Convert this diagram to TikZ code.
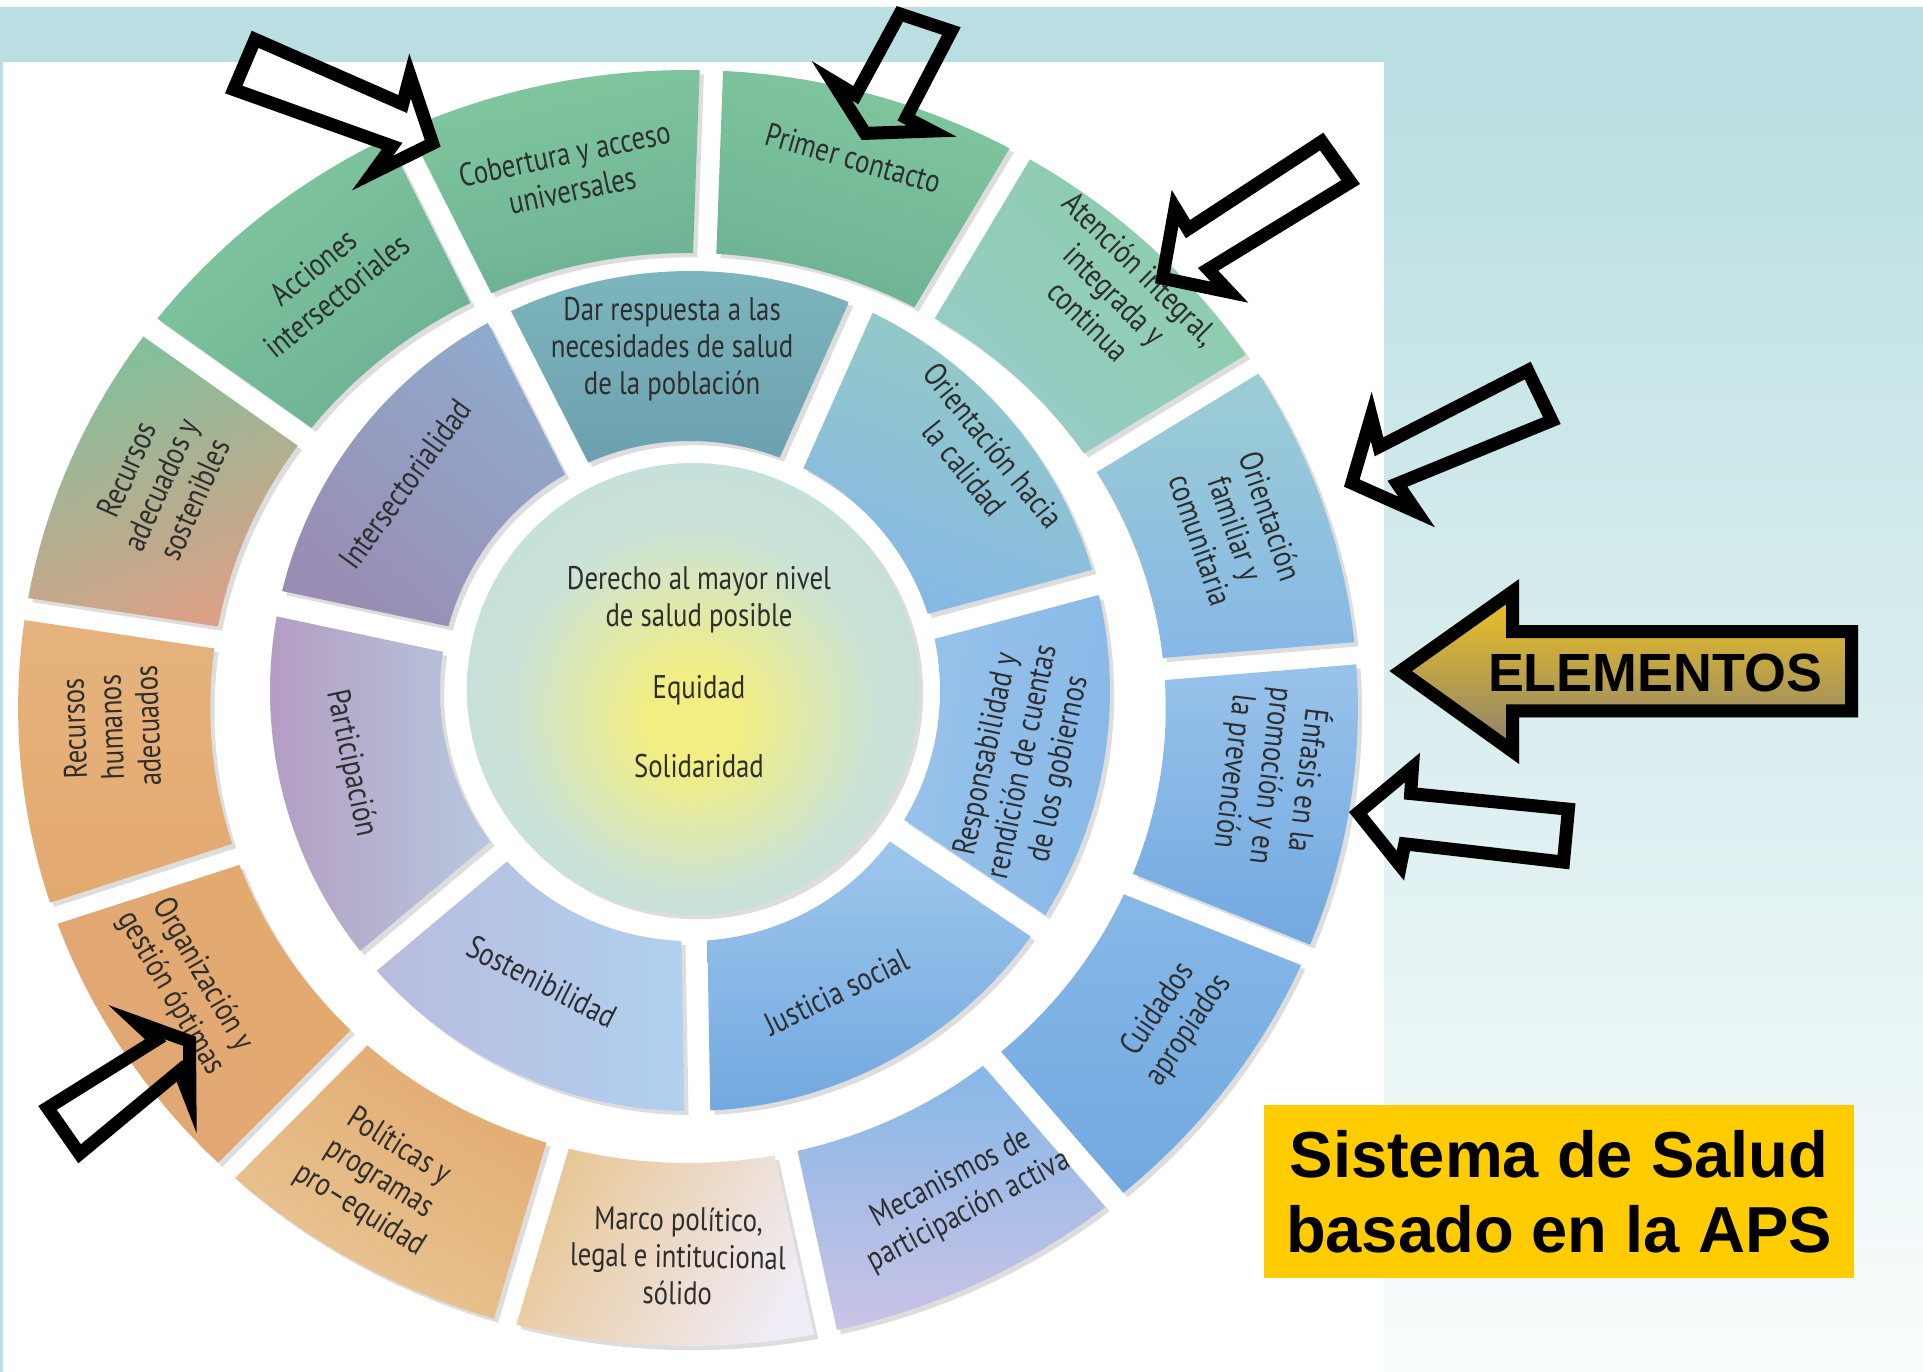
\documentclass[tikz,border=0pt]{standalone}
\usepackage{fontspec}
\usetikzlibrary{shadows}
\newfontfamily\rueda[FakeStretch=0.82]{PT Sans}
\newfontfamily\titulo{Liberation Sans}
\definecolor{banda}{HTML}{BADFE2}
\definecolor{verde}{HTML}{80C89F}
\definecolor{verdeOsc}{HTML}{6DB194}
\definecolor{teal}{HTML}{9CCDD3}
\definecolor{azul}{HTML}{86B8E7}
\definecolor{azulOsc}{HTML}{72A9E0}
\definecolor{lavanda}{HTML}{CBC3E6}
\definecolor{blanco}{HTML}{F0ECF6}
\definecolor{tan}{HTML}{E3AA6F}
\definecolor{tanClaro}{HTML}{E8C796}
\definecolor{rosa}{HTML}{D59A95}
\definecolor{morado}{HTML}{9A8DB3}
\definecolor{violeta}{HTML}{B49BC1}
\definecolor{azulGris}{HTML}{8FAACD}
\definecolor{tealM}{HTML}{7DB7BE}
\definecolor{tealOsc}{HTML}{6CA0AF}
\definecolor{amarilloC}{HTML}{F2EE82}
\definecolor{verdeC}{HTML}{CBE3D6}
\definecolor{celesteC}{HTML}{B5D5EC}
\definecolor{gristexto}{HTML}{2E2E2E}
\definecolor{oro}{HTML}{F7C81A}
\definecolor{grisOro}{HTML}{847C76}
\definecolor{amarilloAPS}{HTML}{FFCC00}
\pgfdeclareradialshading{centro}{\pgfpoint{0bp}{-4bp}}{color(0bp)=(amarilloC); color(5bp)=(amarilloC); color(20bp)=(verdeC); color(50bp)=(celesteC)}
\tikzset{>=stealth}
\tikzset{
  segmento/.style={drop shadow={shadow xshift=1.2pt, shadow yshift=-1.2pt, opacity=0.22, fill=black!60}},
  texto/.style={font=\rueda\fontsize{9.3}{10.5}\selectfont, text=gristexto, align=center, inner sep=0pt},
  flecha/.style={draw=black, line width=7.4pt, line join=miter},
  caja/.style={fill=amarilloAPS, minimum width=5.9cm, minimum height=1.73cm, inner sep=0pt, align=center, font=\titulo\bfseries\fontsize{18.5}{21.3}\selectfont}
}

\begin{document}
\begin{tikzpicture}[x=0.01cm, y=0.01cm]
\useasboundingbox (0,0) rectangle (1923,-1372);
\fill[white] (0,0) rectangle (1923,-1372);
\fill[banda] (0,-7) rectangle (1923,-62);
\shade[top color=banda, bottom color=banda!8!white] (1384,-62) rectangle (1923,-1372);
\fill[banda] (0,-62) rectangle (3,-1372);

\begin{scope}[shift={(688,-708)}, xscale=1.05]
\foreach \ca/\cb/\sa [count=\i] in {verde/verdeOsc/-16, verde!90!white/teal!80!verde/-44, teal/azul/0, azul!85!white/azulOsc/0, azul/azulOsc/0, azul/lavanda/0, tanClaro/blanco/60, tan/tanClaro/-30, tan/tan!85!rosa/-60, tan!90!white/tan/0, verde!90!gray/rosa!60!tan/20, verde/verdeOsc/39, verde/verdeOsc/12}
{
\pgfmathsetmacro\ga{88-360/13*(\i-1)}
\pgfmathsetmacro\gb{\ga-360/13}
\pgfmathsetmacro\oa{\ga-1}
\pgfmathsetmacro\ob{\gb+1}
\pgfmathsetmacro\ia{\ga-1.4}
\pgfmathsetmacro\ib{\gb+1.4}
\shade[segmento, top color=\ca, bottom color=\cb, shading angle=\sa] (\oa:638) arc[start angle=\oa, end angle=\ob, radius=638] -- (\ib:455) arc[start angle=\ib, end angle=\ia, radius=455] -- cycle;
}
\foreach \ta/\tr/\rot/\txt [count=\i] in {74/572/-16/Primer contacto, 45.5/580/-44.5/{Atención integral,\\ integrada y\\ continua}, 19/552/-71/{Orientación\\ familiar y\\ comunitaria}, -7/560/-97/{Énfasis en la\\ promoción y en\\ la prevención}, -34/558/56/{Cuidados\\ apropiados}, -62/552/28/{Mecanismos de\\ participación activa}, -91/548/-1/{Marco político,\\ legal e intitucional\\ sólido}, -122/555/-32/{Políticas y\\ programas\\ pro–equidad}, -150/552/-60/{Organización y\\ gestión óptimas}, -178/550/92/{Recursos\\ humanos\\ adecuados}, 156/550/66/{Recursos\\ adecuados y\\ sostenibles}, 129/549/39/{Acciones\\ intersectoriales}, 102/548/12/{Cobertura y acceso\\ universales}}
\node[texto, rotate=\rot] (ext\i) at (\ta:\tr) {\txt};
\end{scope}

\begin{scope}[shift={(690,-691)}]
\foreach \ga/\gb/\ca/\cb/\sa in {117/66/tealM/tealOsc/0, 66/15/teal!70!verde/azul/-20, 15/-34/azul!85!white/azul/80, -34/-89/azul!80!white/azulOsc/0, -89/-140/azul!65!white/lavanda!70!azulGris/-90, -140/-192/violeta/azulGris!65!white/90, -192/-243/azulGris/morado/-40}
{
\pgfmathsetmacro\oa{\ga-1.77}
\pgfmathsetmacro\ob{\gb+1.77}
\pgfmathsetmacro\ia{\ga-2.98}
\pgfmathsetmacro\ib{\gb+2.98}
\shade[segmento, top color=\ca, bottom color=\cb, shading angle=\sa] (\oa:420) arc[start angle=\oa, end angle=\ob, radius=420] -- (\ib:250) arc[start angle=\ib, end angle=\ia, radius=250] -- cycle;
}
\foreach \ta/\tr/\rot/\txt [count=\i] in {93/342/0/{Dar respuesta a las\\ necesidades de salud\\ de la población}, 39/372/-51/{Orientación hacia\\ la calidad}, -12/341/78/{Responsabilidad y\\ rendición de cuentas\\ de los gobiernos}, -64/335/26/Justicia social, -117/326/-27/Sostenibilidad, -168/347/-78/Participación, 144/352/54/Intersectorialidad}
\node[texto, rotate=\rot] (med\i) at (\ta:\tr) {\txt};
\end{scope}

\shade[segmento, shading=centro] (693,-689) circle[radius=226];
\node[texto] (derecho) at (699,-600) {Derecho al mayor nivel\\ de salud posible};
\node[texto] (equidad) at (699,-690) {Equidad};
\node[texto] (solidaridad) at (699,-766) {Solidaridad};

\coordinate (a1) at (251.7,-30.7); \coordinate (a2) at (398.3,-95); \coordinate (a3) at (409.3,-53.3); \coordinate (a4) at (440.7,-146.7); \coordinate (a5) at (351.7,-190.7); \coordinate (a6) at (381.7,-149.3); \coordinate (a7) at (225,-93.3);
\coordinate (b1) at (896.7,-6); \coordinate (b2) at (960.7,-27.3); \coordinate (b3) at (915,-115); \coordinate (b4) at (956.7,-136.7); \coordinate (b5) at (861.7,-140); \coordinate (b6) at (811.7,-61); \coordinate (b7) at (853.3,-86);
\coordinate (c1) at (1323.3,-132.7); \coordinate (c2) at (1360,-184); \coordinate (c3) at (1218.3,-270.7); \coordinate (c4) at (1248.3,-302.7); \coordinate (c5) at (1155,-283.3); \coordinate (c6) at (1171.7,-190); \coordinate (c7) at (1190,-220);
\coordinate (d1) at (1530.7,-361.7); \coordinate (d2) at (1560.7,-424); \coordinate (d3) at (1407.3,-486.7); \coordinate (d4) at (1435,-527.3); \coordinate (d5) at (1344,-486.7); \coordinate (d6) at (1371.7,-391.7); \coordinate (d7) at (1383.3,-437.3);
\coordinate (e1) at (1389.5,-671); \coordinate (e2) at (1519.2,-579); \coordinate (e3) at (1519.2,-625); \coordinate (e4) at (1858,-625); \coordinate (e5) at (1858,-717.3); \coordinate (e6) at (1519.2,-717.3); \coordinate (e7) at (1519.2,-764);
\coordinate (f1) at (1349,-812); \coordinate (f2) at (1420,-752.7); \coordinate (f3) at (1417.6,-787.7); \coordinate (f4) at (1575.5,-803.3); \coordinate (f5) at (1569.3,-869.3); \coordinate (f6) at (1410,-851); \coordinate (f7) at (1404,-880.6);
\coordinate (g1) at (38.3,-1106); \coordinate (g2) at (145,-1039.3); \coordinate (g3) at (108.3,-1005); \coordinate (g4) at (196,-1036.7); \coordinate (g5) at (196.7,-1133.3); \coordinate (g6) at (176.7,-1081.7); \coordinate (g7) at (78.3,-1163.3);

\fill[white] (a1) -- (a2) -- (a3) -- (a4) -- (a5) -- (a6) -- (a7) -- cycle;
\shade[top color=oro, bottom color=grisOro] (e1) -- (e2) -- (e3) -- (e4) -- (e5) -- (e6) -- (e7) -- cycle;
\foreach \f in {a,b,c,d,e,f,g}{
\begin{scope}
\clip (\f1) -- (\f2) -- (\f3) -- (\f4) -- (\f5) -- (\f6) -- (\f7) -- cycle;
\draw[flecha] (\f1) -- (\f2) -- (\f3) -- (\f4) -- (\f5) -- (\f6) -- (\f7) -- cycle;
\end{scope}}
\node[anchor=base, font=\titulo\bfseries\fontsize{15.3}{18}\selectfont] (elementos) at (1655,-691.7) {ELEMENTOS};

\node[caja] (sistema) at (1559,-1191.5) {Sistema de Salud\\ basado en la APS};
\end{tikzpicture}
\end{document}
